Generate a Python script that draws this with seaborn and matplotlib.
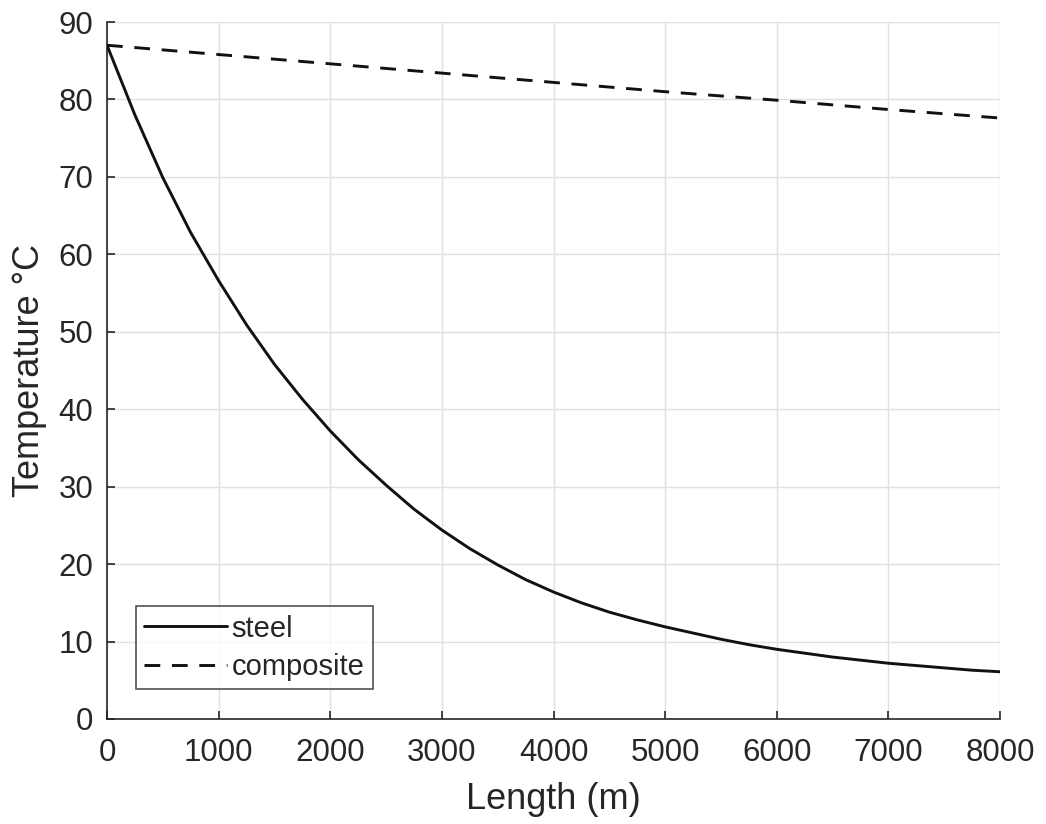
import matplotlib
matplotlib.use("Agg")
import matplotlib.pyplot as plt
import seaborn as sns
import pandas as pd

# Data
steel_length = [0, 250, 500, 750, 1000, 1250, 1500, 1750, 2000, 2250, 2500, 2750,
                3000, 3250, 3500, 3750, 4000, 4250, 4500, 4750, 5000, 5250, 5500,
                5750, 6000, 6250, 6500, 6750, 7000, 7250, 7500, 7750, 8000]
steel_temp = [87.0, 78.0, 69.9, 62.8, 56.6, 50.9, 45.8, 41.3, 37.2, 33.5, 30.2, 27.1,
              24.4, 22.0, 19.9, 18.0, 16.4, 15.0, 13.8, 12.8, 11.9, 11.1, 10.3,
              9.6, 9.0, 8.5, 8.0, 7.6, 7.2, 6.9, 6.6, 6.3, 6.1]

composite_length = [0, 1000, 2000, 3000, 4000, 5000, 6000, 7000, 8000]
composite_temp = [87.0, 85.8, 84.6, 83.4, 82.2, 81.0, 79.9, 78.7, 77.6]

x_ticks = [0, 1000, 2000, 3000, 4000, 5000, 6000, 7000, 8000]
y_ticks = [0, 10, 20, 30, 40, 50, 60, 70, 80, 90]

sns.set_style("white")
plt.rcParams['font.family'] = ['Liberation Sans', 'DejaVu Sans']

DASH = (5.4, 4.0)
LW = 2.1

fig = plt.figure(figsize=(10.46, 8.24), dpi=100)
ax = fig.add_axes([107 / 1046, 1 - 719 / 824, (1000 - 107) / 1046, (719 - 22) / 824])

df_steel = pd.DataFrame({"Length": steel_length, "Temp": steel_temp})
df_comp = pd.DataFrame({"Length": composite_length, "Temp": composite_temp})

sns.lineplot(data=df_steel, x="Length", y="Temp", ax=ax, color="#111111",
             linewidth=LW, label="steel", zorder=3)
sns.lineplot(data=df_comp, x="Length", y="Temp", ax=ax, color="#111111",
             linewidth=LW, label="composite", zorder=3)
ax.lines[1].set_dashes(DASH)

ax.set_xlim(0, 8000)
ax.set_ylim(0, 90)
ax.set_xticks(x_ticks)
ax.set_yticks(y_ticks)
ax.grid(True, color="#e0e0e0", linewidth=1.0)
ax.set_axisbelow(True)

for s in ["top", "right"]:
    ax.spines[s].set_visible(False)
for s in ["left", "bottom"]:
    ax.spines[s].set_color("#262626")
    ax.spines[s].set_linewidth(1.2)

ax.tick_params(axis="both", direction="in", length=6, width=1.2,
               colors="#262626", labelsize=22.5,
               bottom=True, left=True)
ax.tick_params(axis="x", pad=14)
ax.tick_params(axis="y", pad=10)

ax.set_xlabel("Length (m)", fontsize=26, color="#262626", labelpad=10)
ax.set_ylabel("Temperature °C", fontsize=26, color="#262626", labelpad=8)

leg = ax.legend(loc="lower left", bbox_to_anchor=(29 / 893, 30 / 697),
                borderaxespad=0, fontsize=21, frameon=True, fancybox=False,
                handlelength=2.85, handletextpad=0.15, borderpad=0.28,
                labelspacing=0.35, edgecolor="#262626")
leg.get_frame().set_linewidth(1.2)
leg.legend_handles[1].set_dashes(DASH)

fig.savefig("out.png", dpi=100, facecolor="white")
